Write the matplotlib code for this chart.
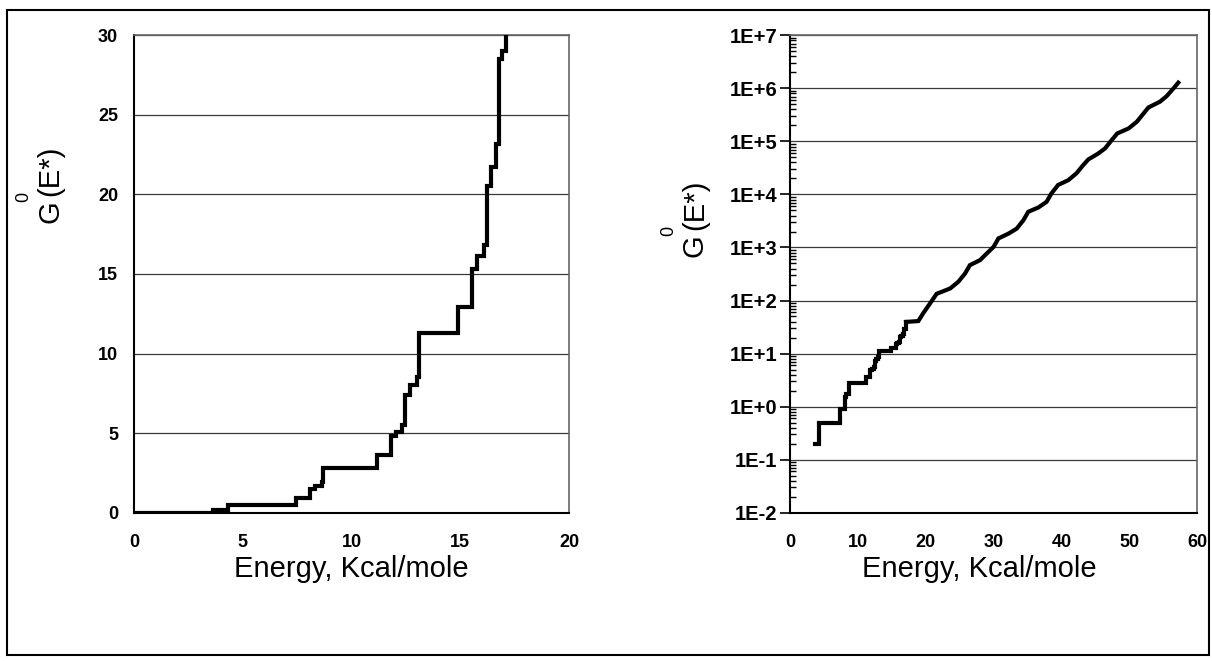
import matplotlib
matplotlib.use("Agg")
import matplotlib.pyplot as plt
from matplotlib.patches import Rectangle
from matplotlib.ticker import FixedLocator, FixedFormatter, NullFormatter, LogLocator

# Cumulative count of states G0(E*) against energy (kcal/mole).
# Low-energy part: individual levels (drawn as a staircase).
energy_steps = [0.0, 3.65, 4.34, 7.43, 8.09, 8.32, 8.63, 8.70, 11.16, 11.82, 12.03,
                12.31, 12.47, 12.69, 13.00, 13.12, 14.91, 15.56, 15.76, 16.11, 16.22,
                16.41, 16.64, 16.78, 16.93, 17.09]
g0_steps = [0.0, 0.2, 0.5, 0.9, 1.5, 1.7, 1.9, 2.8, 3.6, 4.8, 5.1,
            5.5, 7.4, 8.0, 8.5, 11.3, 12.9, 15.3, 16.1, 16.8, 20.5,
            21.7, 23.2, 28.5, 29.0, 39.5]
# High-energy part: levels are dense, drawn as a continuous curve.
energy_dense = [18.9, 19.6, 20.6, 21.6, 22.3, 23.6, 24.8, 25.8, 26.5, 28.0,
                29.0, 30.0, 30.7, 32.2, 33.4, 34.4, 35.1, 36.6, 37.8, 38.5,
                39.5, 41.0, 42.2, 43.2, 43.95, 45.4, 46.4, 47.4, 48.2, 49.9,
                51.1, 52.1, 52.8, 54.5, 55.5, 56.5, 57.2]
g0_dense = [41, 57, 87, 134, 145, 169, 226, 325, 464, 578,
            773, 1030, 1480, 1830, 2270, 3290, 4710, 5690, 7260, 10400,
            15100, 18600, 25000, 35800, 45700, 59000, 73500, 106000, 141000, 176000,
            235000, 338000, 436000, 560000, 716000, 1.0e6, 1.28e6]

lin_yticks = [0, 5, 10, 15, 20, 25, 30]
lin_xticks = [0, 5, 10, 15, 20]
log_xticks = [0, 10, 20, 30, 40, 50, 60]
log_yticks = [1e-2, 1e-1, 1e0, 1e1, 1e2, 1e3, 1e4, 1e5, 1e6, 1e7]
log_ylabels = ["1E-2", "1E-1", "1E+0", "1E+1", "1E+2", "1E+3",
               "1E+4", "1E+5", "1E+6", "1E+7"]

x_label = "Energy, Kcal/mole"

plt.rcParams["font.family"] = ["Liberation Sans", "DejaVu Sans"]

W, H = 1212, 661
fig = plt.figure(figsize=(W / 100, H / 100), dpi=100)
fig.patch.set_facecolor("white")


def fx(px):
    return px / W


def fy(py):
    return 1 - py / H


# outer frame around the whole figure
fig.add_artist(Rectangle((fx(7), fy(655)), 1202 / W, 645 / H,
                         transform=fig.transFigure, fill=False,
                         edgecolor="black", linewidth=1.5))

ax1 = fig.add_axes([fx(134), fy(512.7), 435 / W, 477.4 / H])
ax2 = fig.add_axes([fx(790), fy(512.7), 407.3 / W, 477.4 / H])

grid_color = "#3a3a3a"
line_kw = dict(color="black", lw=3.0, solid_joinstyle="miter", zorder=3)

for ax in (ax1, ax2):
    ax.spines["left"].set_color("black")
    ax.spines["bottom"].set_color("black")
    ax.spines["left"].set_linewidth(1.5)
    ax.spines["bottom"].set_linewidth(1.5)
    ax.spines["top"].set_color("#666666")
    ax.spines["right"].set_color("#666666")
    ax.spines["top"].set_linewidth(1.2)
    ax.spines["right"].set_linewidth(1.2)
    ax.yaxis.grid(True, color=grid_color, linewidth=0.9)
    ax.set_axisbelow(True)
    ax.tick_params(axis="x", length=0, pad=15)

# linear panel
ax1.plot(energy_steps, g0_steps, drawstyle="steps-post", **line_kw)
ax1.set_xlim(0, 20)
ax1.set_ylim(0, 30)
ax1.xaxis.set_major_locator(FixedLocator(lin_xticks))
ax1.yaxis.set_major_locator(FixedLocator(lin_yticks))
ax1.tick_params(axis="y", length=0, pad=11.5)
for lbl in ax1.get_xticklabels() + ax1.get_yticklabels():
    lbl.set_fontsize(13)
    lbl.set_fontweight("bold")
ax1.set_xlabel(x_label, fontsize=21)
ax1.xaxis.set_label_coords(0.5, -0.088)
ax1.xaxis.label.set_va("top")

# logarithmic panel
ax2.set_yscale("log", nonpositive="mask")
ax2.plot(energy_steps, g0_steps, drawstyle="steps-post", **line_kw)
ax2.plot([energy_steps[-1]] + energy_dense, [g0_steps[-1]] + g0_dense, **line_kw)
ax2.set_xlim(0, 60)
ax2.set_ylim(1e-2, 1e7)
ax2.xaxis.set_major_locator(FixedLocator(log_xticks))
ax2.yaxis.set_major_locator(FixedLocator(log_yticks))
ax2.yaxis.set_major_formatter(FixedFormatter(log_ylabels))
ax2.yaxis.set_minor_locator(LogLocator(base=10, subs=range(2, 10), numticks=20))
ax2.yaxis.set_minor_formatter(NullFormatter())
ax2.tick_params(axis="y", which="major", direction="out", length=7, width=1.2, pad=2)
ax2.tick_params(axis="y", which="minor", direction="in", length=4, width=1.0)
for lbl in ax2.get_xticklabels():
    lbl.set_fontsize(13)
    lbl.set_fontweight("bold")
for lbl in ax2.get_yticklabels():
    lbl.set_fontsize(14.5)
    lbl.set_fontweight("bold")
ax2.set_xlabel(x_label, fontsize=21)
ax2.xaxis.set_label_coords(0.464, -0.088)
ax2.xaxis.label.set_va("top")


# y-axis titles: G, a raised superscript 0, then (E*)
def y_title(xc, g_bottom):
    fig.text(fx(xc), fy(g_bottom), "G", rotation=90, fontsize=21,
             ha="center", va="bottom")
    fig.text(fx(xc - 26), fy(g_bottom - 26), "0", rotation=90, fontsize=13,
             ha="center", va="center")
    fig.text(fx(xc), fy(g_bottom - 27), "(E*)", rotation=90, fontsize=21,
             ha="center", va="bottom")


y_title(50, 223)
y_title(695, 257)

fig.savefig("out.png", dpi=100, facecolor="white")
